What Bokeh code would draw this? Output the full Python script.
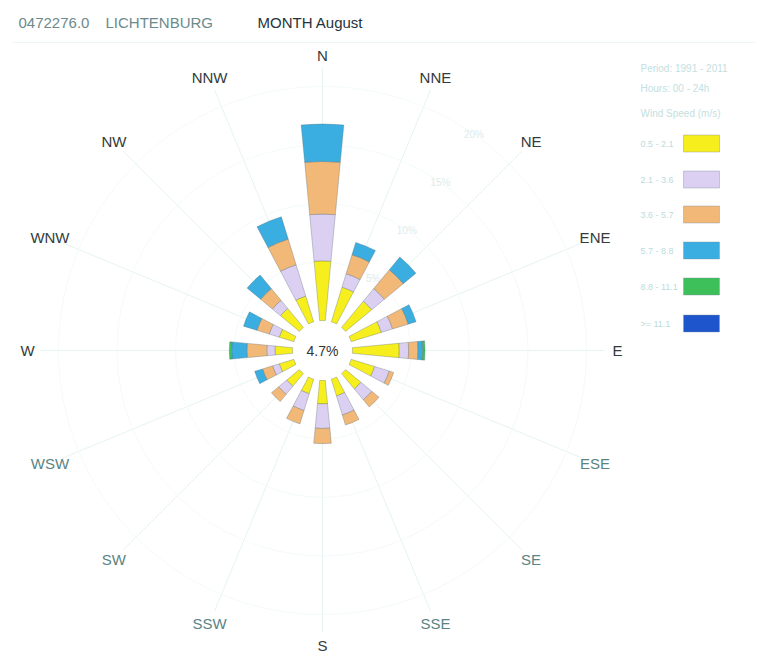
import math
from bokeh.plotting import figure
from bokeh.models import ColumnDataSource, Range1d
from bokeh.core.properties import value
from bokeh.embed import file_html
from bokeh.resources import INLINE

# ---- data -----------------------------------------------------------------
directions = ["N", "NNE", "NE", "ENE", "E", "ESE", "SE", "SSE",
              "S", "SSW", "SW", "WSW", "W", "WNW", "NW", "NNW"]
bearings = [i * 22.5 for i in range(16)]

speed_classes = ["0.5 - 2.1", "2.1 - 3.6", "3.6 - 5.7", "5.7 - 8.8", "8.8 - 11.1", ">= 11.1"]
class_colors = ["#f7ee1e", "#dcd0f2", "#f2b878", "#3aaee0", "#3dbf5a", "#1f55cc"]

# frequency (%) per direction for each wind-speed class
pct_05_21 = [5.1, 3.1, 2.9, 2.7, 4.0, 2.1, 1.7, 1.5, 2.0, 1.3, 1.4, 1.3, 1.5, 1.3, 2.1, 2.3]
pct_21_36 = [4.0, 1.2, 1.4, 1.0, 0.8, 1.3, 1.2, 1.7, 2.1, 1.5, 0.9, 0.6, 0.7, 0.9, 0.9, 2.8]
pct_36_57 = [4.5, 1.7, 2.1, 1.4, 0.8, 0.4, 0.8, 0.9, 1.3, 1.2, 0.8, 0.9, 1.7, 1.1, 1.3, 2.3]
pct_57_88 = [3.2, 1.1, 1.4, 0.7, 0.4, 0.0, 0.0, 0.0, 0.0, 0.0, 0.0, 0.7, 1.3, 1.2, 1.5, 2.0]
pct_88_111 = [0.0, 0.0, 0.0, 0.0, 0.2, 0.0, 0.0, 0.0, 0.0, 0.0, 0.0, 0.0, 0.2, 0.0, 0.0, 0.0]
pct_111 = [0.0] * 16
series = [pct_05_21, pct_21_36, pct_36_57, pct_57_88, pct_88_111, pct_111]

calms = 4.7
ring_pcts = [5, 10, 15, 20]

station_id = "0472276.0"
station_name = "LICHTENBURG"
title_month = "MONTH August"
legend_header = ["Period: 1991 - 2011", "Hours: 00 - 24h", "Wind Speed (m/s)"]

# ---- geometry ----------------------------------------------------------------
W, H = 765, 656
CX, CY = 322, 350          # rose centre in page pixels
R0 = 30                    # calm circle radius
PX_PER_PCT = 11.7
HALF_W = math.radians(5.4)
FONT = "Liberation Sans"


def px(x, y):
    """page pixel -> data coordinates (centre at origin, y up)"""
    return x - CX, CY - y


def rad(pct):
    return R0 + pct * PX_PER_PCT


def ang(b):
    return math.radians(90 - b)


p = figure(width=W, height=H, output_backend="svg", toolbar_location=None,
           x_range=Range1d(-CX, W - CX), y_range=Range1d(CY - H, CY),
           min_border=0, background_fill_color="white", border_fill_color="white")
p.axis.visible = False
p.grid.visible = False
p.outline_line_color = None

# faint frame line under the title
fx0, fy0 = px(12, 42)
fx1, _ = px(755, 42)
p.line([fx0, fx1], [fy0, fy0], line_color="#ecf6f6", line_width=1)

# radial axes
for b in bearings:
    a = ang(b)
    p.line([R0 * math.cos(a), 282 * math.cos(a)], [R0 * math.sin(a), 282 * math.sin(a)],
           line_color="#e6f3f3", line_width=1)

# percentage rings
p.circle(x=[0] * len(ring_pcts), y=[0] * len(ring_pcts),
         radius=[rad(v) for v in ring_pcts], fill_color=None,
         line_color="#f4fafa", line_width=1)
ra = ang(35)
p.text(x=[rad(v) * math.cos(ra) for v in ring_pcts], y=[rad(v) * math.sin(ra) for v in ring_pcts],
       text=[f"{v}%" for v in ring_pcts], text_font=value(FONT), text_font_size="10px",
       text_color="#dcecec", text_align="center", text_baseline="middle")

# stacked speed-class bars
cum = [0.0] * 16
for vals, col in zip(series, class_colors):
    inner = [rad(c) for c in cum]
    cum = [c + v for c, v in zip(cum, vals)]
    outer = [rad(c) for c in cum]
    keep = [i for i in range(16) if vals[i] > 0]
    src = ColumnDataSource(dict(
        x=[0] * len(keep), y=[0] * len(keep),
        ir=[inner[i] for i in keep], orr=[outer[i] for i in keep],
        sa=[ang(bearings[i]) - HALF_W for i in keep],
        ea=[ang(bearings[i]) + HALF_W for i in keep]))
    p.annular_wedge(x="x", y="y", inner_radius="ir", outer_radius="orr",
                    start_angle="sa", end_angle="ea", source=src,
                    fill_color=col, line_color="#50646a", line_alpha=0.4, line_width=0.8)

# calms in the centre
p.text(x=[0], y=[0], text=[f"{calms}%"], text_font=value(FONT), text_font_size="14px",
       text_color="#333333", text_align="center", text_baseline="middle")

# compass labels
dark = {"N", "NNE", "NE", "ENE", "E", "S", "NNW", "NW", "WNW", "W"}
lab_x = [295 * math.cos(ang(b)) for b in bearings]
lab_y = [295 * math.sin(ang(b)) for b in bearings]
lab_c = ["#333b3b" if d in dark else "#5a8484" for d in directions]
p.text(x=lab_x, y=lab_y, text=directions, text_font=value(FONT), text_font_size="15px",
       text_color=lab_c, text_align="center", text_baseline="middle")

# title
for txt, x0, col in [(station_id, 18, "#6c8a8a"), (station_name, 105, "#6c8a8a"),
                     (title_month, 257, "#26343a")]:
    tx, ty = px(x0, 22)
    p.text(x=[tx], y=[ty], text=[txt], text_font=value(FONT), text_font_size="15px",
           text_color=col, text_align="left", text_baseline="middle")

# legend
hx, _ = px(640, 0)
for line, yy in zip(legend_header, [68, 88, 113]):
    _, hy = px(0, yy)
    p.text(x=[hx], y=[hy], text=[line], text_font=value(FONT), text_font_size="10px",
           text_color="#c4e0e0", text_align="left", text_baseline="middle")
box_y = [143, 179, 214, 250, 286, 323]
bx, _ = px(701, 0)
lx, _ = px(640, 0)
for lbl, col, yy in zip(speed_classes, class_colors, box_y):
    _, by = px(0, yy)
    p.rect(x=[bx], y=[by], width=36, height=17, fill_color=col,
           line_color="#8090a0", line_alpha=0.4)
    p.text(x=[lx], y=[by], text=[lbl], text_font=value(FONT), text_font_size="9px",
           text_color="#bcdcdc", text_align="left", text_baseline="middle")

open("out.html", "w").write(file_html(p, INLINE))
